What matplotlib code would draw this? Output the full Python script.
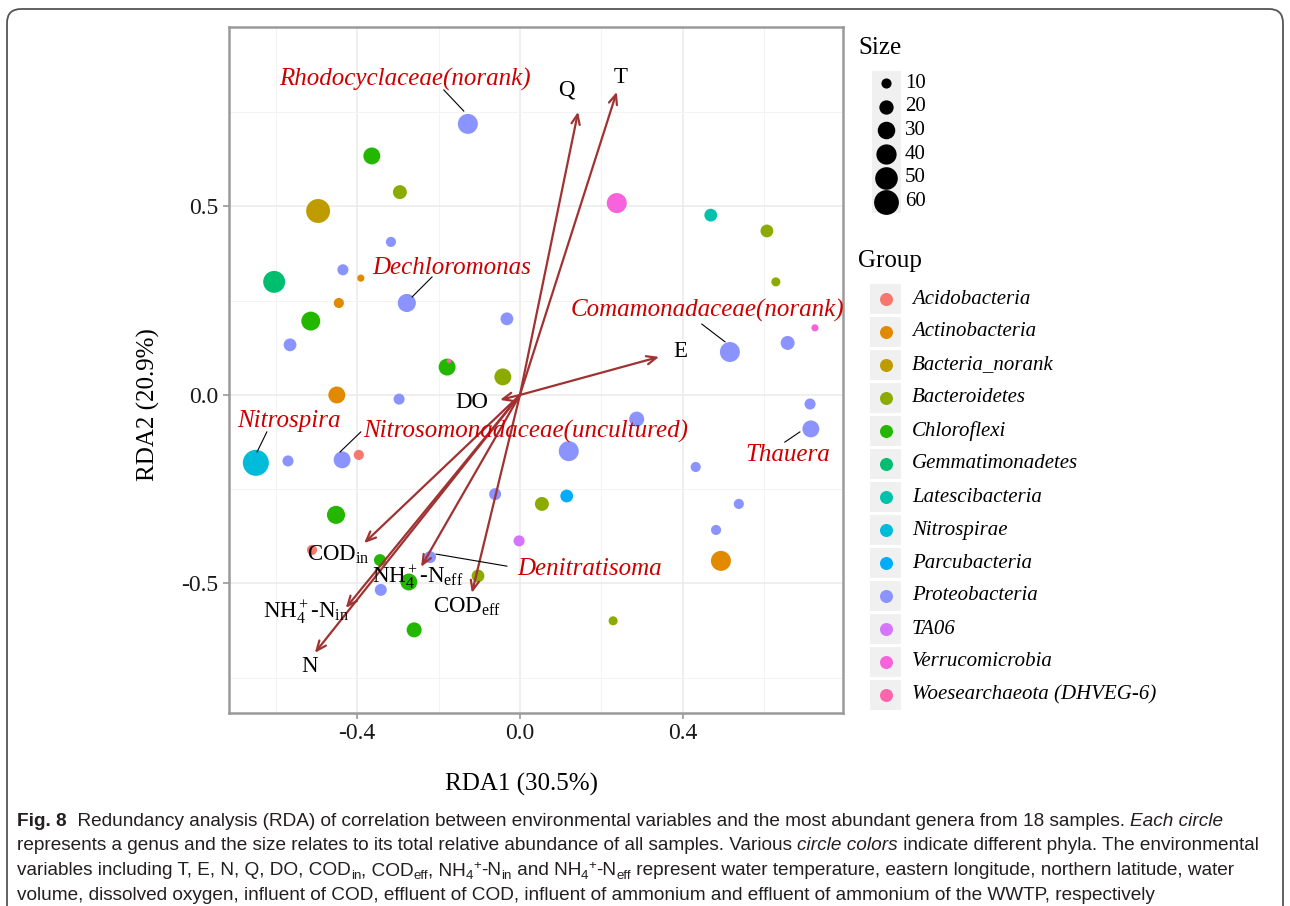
import numpy as np
import matplotlib.pyplot as plt
from matplotlib.patches import FancyBboxPatch, Rectangle

plt.rcParams['font.family'] = ['Liberation Serif', 'DejaVu Serif']
plt.rcParams['mathtext.fontset'] = 'custom'
plt.rcParams['mathtext.rm'] = 'Liberation Serif'
plt.rcParams['mathtext.it'] = 'Liberation Serif:italic'
plt.rcParams['axes.unicode_minus'] = False

# phyla in legend order, with ggplot hue colours
phyla = ['Acidobacteria', 'Actinobacteria', 'Bacteria_norank', 'Bacteroidetes',
         'Chloroflexi', 'Gemmatimonadetes', 'Latescibacteria', 'Nitrospirae',
         'Parcubacteria', 'Proteobacteria', 'TA06', 'Verrucomicrobia',
         'Woesearchaeota (DHVEG-6)']
phylum_colors = ['#F8766D', '#E18A00', '#BE9C00', '#8CAB00', '#24B700', '#00BE70',
                 '#00C1AB', '#00BBDA', '#00ACFC', '#8B93FF', '#D575FE', '#F962DD',
                 '#FF65AC']

# genus scores
rda1 = [-0.128, -0.364, -0.295, -0.496, 0.238, 0.469, 0.607, -0.317, -0.435, -0.391,
        -0.604, 0.629, -0.445, -0.278, -0.514, -0.032, -0.565, 0.725, 0.516, 0.658,
        -0.179, -0.174, -0.042, -0.450, -0.297, 0.713, 0.287, 0.715, -0.649, -0.570,
        -0.437, -0.396, 0.120, 0.432, -0.061, 0.054, 0.115, 0.538, -0.452, 0.482,
        -0.002, -0.511, -0.344, -0.221, 0.494, -0.103, -0.273, -0.342, -0.260, 0.229]
rda2 = [0.719, 0.634, 0.538, 0.488, 0.509, 0.477, 0.435, 0.406, 0.332, 0.310,
        0.300, 0.300, 0.244, 0.244, 0.196, 0.202, 0.133, 0.178, 0.114, 0.138,
        0.074, 0.090, 0.048, 0.000, -0.011, -0.024, -0.064, -0.090, -0.180, -0.175,
        -0.172, -0.159, -0.149, -0.191, -0.263, -0.289, -0.268, -0.289, -0.318, -0.358,
        -0.387, -0.411, -0.438, -0.430, -0.440, -0.480, -0.496, -0.517, -0.623, -0.599]
genus_phylum = ['Proteobacteria', 'Chloroflexi', 'Bacteroidetes', 'Bacteria_norank',
                'Verrucomicrobia', 'Latescibacteria', 'Bacteroidetes', 'Proteobacteria',
                'Proteobacteria', 'Actinobacteria', 'Gemmatimonadetes', 'Bacteroidetes',
                'Actinobacteria', 'Proteobacteria', 'Chloroflexi', 'Proteobacteria',
                'Proteobacteria', 'Verrucomicrobia', 'Proteobacteria', 'Proteobacteria',
                'Chloroflexi', 'Woesearchaeota (DHVEG-6)', 'Bacteroidetes', 'Actinobacteria',
                'Proteobacteria', 'Proteobacteria', 'Proteobacteria', 'Proteobacteria',
                'Nitrospirae', 'Proteobacteria', 'Proteobacteria', 'Acidobacteria',
                'Proteobacteria', 'Proteobacteria', 'Proteobacteria', 'Bacteroidetes',
                'Parcubacteria', 'Proteobacteria', 'Chloroflexi', 'Proteobacteria',
                'TA06', 'Acidobacteria', 'Chloroflexi', 'Proteobacteria',
                'Actinobacteria', 'Bacteroidetes', 'Chloroflexi', 'Proteobacteria',
                'Chloroflexi', 'Bacteroidetes']
abundance = [39, 28, 19, 56, 39, 16, 16, 10, 12, 5,
             47, 8, 10, 32, 35, 16, 16, 5, 39, 19,
             28, 2, 28, 28, 12, 12, 22, 28, 66, 12,
             28, 10, 39, 10, 14, 19, 16, 10, 32, 10,
             12, 10, 14, 14, 39, 16, 28, 14, 22, 8]

# environmental vectors
env_names = ['T', 'Q', 'E', 'DO', 'COD$_{\\rm in}$', 'NH$_4^+$-N$_{\\rm eff}$',
             'COD$_{\\rm eff}$', 'NH$_4^+$-N$_{\\rm in}$', 'N']
env_rda1 = [0.238, 0.143, 0.342, -0.049, -0.383, -0.243, -0.118, -0.428, -0.504]
env_rda2 = [0.804, 0.751, 0.101, -0.013, -0.393, -0.456, -0.525, -0.565, -0.684]
env_lab_x = [0.248, 0.115, 0.393, -0.118, -0.447, -0.251, -0.130, -0.526, -0.518]
env_lab_y = [0.843, 0.809, 0.114, -0.021, -0.424, -0.485, -0.562, -0.576, -0.721]

# labelled genera
genus_labels = ['Rhodocyclaceae(norank)', 'Dechloromonas', 'Comamonadaceae(norank)',
                'Nitrospira', 'Nitrosomonadaceae(uncultured)', 'Thauera', 'Denitratisoma']
glab_x = [-0.283, -0.167, 0.462, -0.568, 0.015, 0.658, 0.170]
glab_y = [0.836, 0.337, 0.225, -0.069, -0.098, -0.159, -0.462]
lead_x0 = [-0.187, -0.216, 0.447, -0.622, -0.391, 0.651, -0.206]
lead_y0 = [0.809, 0.313, 0.188, -0.098, -0.098, -0.125, -0.422]
lead_x1 = [-0.138, -0.265, 0.504, -0.646, -0.442, 0.688, -0.032]
lead_y1 = [0.753, 0.260, 0.141, -0.151, -0.151, -0.098, -0.454]

size_breaks = [10, 20, 30, 40, 50, 60]


def marker_area(v):
    # circle diameter ~3.2 px per sqrt(abundance), area in pt^2 at 100 dpi
    return (3.2 * 0.72) ** 2 * np.asarray(v, dtype=float)


W, H = 1290, 906
fig = plt.figure(figsize=(W / 100, H / 100), dpi=100)

ax = fig.add_axes([229 / W, 1 - 713 / H, 614 / W, 686 / H])
ax.set_xlim(-0.715, 0.794)
ax.set_ylim(-0.8435, 0.976)
ax.set_xticks([-0.4, 0.0, 0.4])
ax.set_yticks([-0.5, 0.0, 0.5])
ax.set_xticks([-0.6, -0.2, 0.2, 0.6], minor=True)
ax.set_yticks([-0.75, -0.25, 0.25, 0.75], minor=True)
ax.grid(True, which='major', color='#ebebeb', lw=1.1)
ax.grid(True, which='minor', color='#f3f3f3', lw=0.7)
ax.set_axisbelow(True)
for sp in ax.spines.values():
    sp.set_color('#9a9a9a')
    sp.set_linewidth(1.8)
ax.tick_params(which='major', length=4, width=1.2, color='#9a9a9a',
               labelsize=17, labelcolor='#1a1a1a')
ax.tick_params(which='minor', length=0)
ax.set_xlabel('RDA1 (30.5%)', fontsize=18)
ax.set_ylabel('RDA2 (20.9%)', fontsize=18)
ax.xaxis.set_label_coords(0.477, -0.087)
ax.yaxis.set_label_coords(-0.112, 0.449)

colors = [phylum_colors[phyla.index(p)] for p in genus_phylum]
ax.scatter(rda1, rda2, s=marker_area(abundance), c=colors, linewidths=0, zorder=2)

for x, y in zip(env_rda1, env_rda2):
    ax.annotate('', xy=(x, y), xytext=(0, 0),
                arrowprops=dict(arrowstyle='->,head_length=0.7,head_width=0.3',
                                color='#a03232', lw=1.6, shrinkA=0, shrinkB=0),
                zorder=3)
for name, x, y in zip(env_names, env_lab_x, env_lab_y):
    ax.text(x, y, name, fontsize=16.5, ha='center', va='center', color='black', zorder=4)

for i, name in enumerate(genus_labels):
    ax.plot([lead_x0[i], lead_x1[i]], [lead_y0[i], lead_y1[i]], color='black', lw=0.8, zorder=4)
    ax.text(glab_x[i], glab_y[i], name, fontsize=18, style='italic', color='#cc0000',
            ha='center', va='center', zorder=5)

# overlay in pixel coordinates for legend, caption and frame
ov = fig.add_axes([0, 0, 1, 1])
ov.set_xlim(0, W)
ov.set_ylim(H, 0)
ov.axis('off')

ov.add_patch(FancyBboxPatch((7, 9), 1276, 930, boxstyle='round,pad=0,rounding_size=14',
                            fc='none', ec='#555555', lw=1.3))

# size legend
ov.text(858, 48, 'Size', fontsize=18, va='center', ha='left')
for k, b in enumerate(size_breaks):
    yy = 83 + k * 23.7
    ov.add_patch(Rectangle((872, yy - 11.85), 29, 23.7, fc='#f0f0f0', ec='none'))
for k, b in enumerate(size_breaks):
    yy = 83 + k * 23.7
    ov.scatter([886], [yy], s=marker_area([b]), c='black', linewidths=0)
    ov.text(905, yy, str(b), fontsize=15, va='center', ha='left')

# group legend
ov.text(858, 261, 'Group', fontsize=18, va='center', ha='left')
for k, p in enumerate(phyla):
    yy = 299 + k * 33
    ov.add_patch(Rectangle((870, yy - 15), 31, 30, fc='#f0f0f0', ec='none'))
    ov.scatter([886], [yy], s=(13 * 0.72) ** 2, c=phylum_colors[k], linewidths=0)
    ov.text(912, yy, p, fontsize=15, style='italic', va='center', ha='left')

# caption
cap_font = ['Liberation Sans', 'DejaVu Sans']
cap_size = 13.7
renderer = fig.canvas.get_renderer()


def run_width(s, kw):
    t1 = ov.text(0, 0, 'x' + s + 'x', **kw)
    t2 = ov.text(0, 0, 'xx', **kw)
    w = t1.get_window_extent(renderer).width - t2.get_window_extent(renderer).width
    t1.remove()
    t2.remove()
    return w


def draw_runs(x, y, runs):
    for s, style in runs:
        kw = dict(family=cap_font, fontsize=cap_size, color='#231f20')
        dy = 0
        if style == 'b':
            kw['fontweight'] = 'bold'
        elif style == 'i':
            kw['fontstyle'] = 'italic'
        elif style == 'sub':
            kw['fontsize'] = cap_size * 0.7
            dy = 4
        elif style == 'sup':
            kw['fontsize'] = cap_size * 0.7
            dy = -6
        ov.text(x, y + dy, s, va='baseline', ha='left', **kw)
        x += run_width(s, kw)


caption = [
    [('Fig. 8', 'b'),
     ('  Redundancy analysis (RDA) of correlation between environmental variables and the most abundant genera from 18 samples. ', 'n'),
     ('Each circle', 'i')],
    [('represents a genus and the size relates to its total relative abundance of all samples. Various ', 'n'),
     ('circle colors', 'i'),
     (' indicate different phyla. The environmental', 'n')],
    [('variables including T, E, N, Q, DO, COD', 'n'), ('in', 'sub'), (', COD', 'n'), ('eff', 'sub'),
     (', NH', 'n'), ('4', 'sub'), ('+', 'sup'), ('-N', 'n'), ('in', 'sub'),
     (' and NH', 'n'), ('4', 'sub'), ('+', 'sup'), ('-N', 'n'), ('eff', 'sub'),
     (' represent water temperature, eastern longitude, northern latitude, water', 'n')],
    [('volume, dissolved oxygen, influent of COD, effluent of COD, influent of ammonium and effluent of ammonium of the WWTP, respectively', 'n')],
]
for k, line in enumerate(caption):
    draw_runs(17, 826 + k * 24.5, line)

fig.savefig('out.png', dpi=100)
